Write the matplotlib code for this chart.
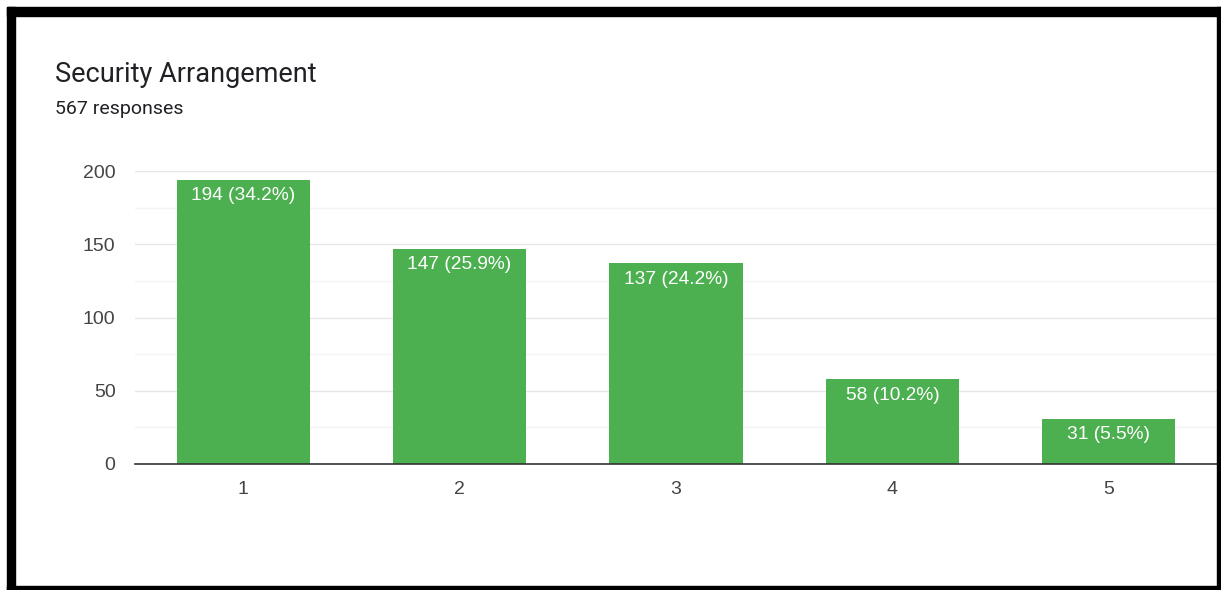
import matplotlib.pyplot as plt
from matplotlib.patches import Rectangle
from matplotlib.ticker import MultipleLocator

# data
categories = ["1", "2", "3", "4", "5"]
counts = [194, 147, 137, 58, 31]
percents = [34.2, 25.9, 24.2, 10.2, 5.5]
title = "Security Arrangement"
subtitle = "567 responses"

W, H = 1221, 590
fig = plt.figure(figsize=(W / 100, H / 100), dpi=100)
fig.patch.set_facecolor("white")

# axes placed in pixel terms
left, right, top, bottom = 135, 1217, 171, 464
ax = fig.add_axes([left / W, 1 - bottom / H, (right - left) / W, (bottom - top) / H])

x = list(range(1, len(categories) + 1))
bars = ax.bar(x, counts, width=0.615, color="#4caf50", zorder=3)

for b, c, p in zip(bars, counts, percents):
    ax.annotate(f"{c} ({p}%)", (b.get_x() + b.get_width() / 2, b.get_height()),
                xytext=(0, -5.5), textcoords="offset points", ha="center", va="top",
                color="white", fontsize=13.8, family="Liberation Sans", zorder=4)

ax.set_xlim(0.5, 5.5)
ax.set_ylim(0, 200)
ax.set_xticks(x)
ax.set_xticklabels(categories)
ax.yaxis.set_major_locator(MultipleLocator(50))
ax.yaxis.set_minor_locator(MultipleLocator(25))
ax.grid(axis="y", which="major", color="#e6e6e6", linewidth=1, zorder=0)
ax.grid(axis="y", which="minor", color="#f3f3f3", linewidth=1, zorder=0)

for s in ["top", "right", "left"]:
    ax.spines[s].set_visible(False)
ax.spines["bottom"].set_color("#333333")
ax.spines["bottom"].set_linewidth(1.2)
ax.spines["bottom"].set_zorder(5)

ax.tick_params(axis="both", which="both", length=0, labelsize=14, labelcolor="#444444")
ax.tick_params(axis="y", pad=14)
ax.tick_params(axis="x", pad=12)
for lab in ax.get_xticklabels() + ax.get_yticklabels():
    lab.set_family("Liberation Sans")

fig.text(55 / W, 1 - 82 / H, title, fontsize=19.5, color="#202124",
         family="Roboto", va="baseline", ha="left")
fig.text(55 / W, 1 - 114 / H, subtitle, fontsize=14, color="#202124",
         family="Roboto", va="baseline", ha="left")

# black frame of the screenshot
def px_rect(x0, y0, x1, y1):
    fig.patches.append(Rectangle((x0 / W, 1 - y1 / H), (x1 - x0) / W, (y1 - y0) / H,
                                 transform=fig.transFigure, color="black", zorder=10))

px_rect(7, 7, 1221, 16)     # top
px_rect(7, 7, 15, 590)      # left
px_rect(1217, 7, 1221, 590) # right
px_rect(7, 586, 1221, 590)  # bottom

fig.savefig("out.png", dpi=100)
